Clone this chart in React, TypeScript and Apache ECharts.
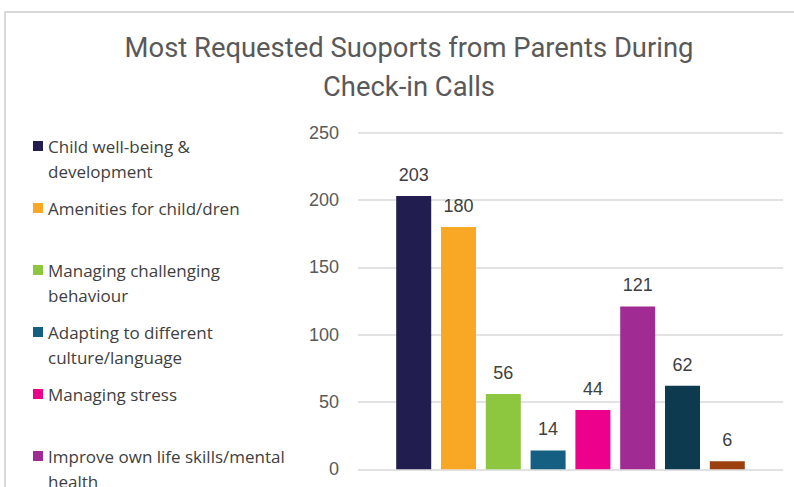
import React, { useEffect, useRef } from 'react';
import * as echarts from 'echarts';

const chartTitle = 'Most Requested Suoports from Parents During\nCheck-in Calls';
const categories = [''];
const seriesNames = [
  'Child well-being & development',
  'Amenities for child/dren',
  'Managing challenging behaviour',
  'Adapting to different culture/language',
  'Managing stress',
  'Improve own life skills/mental health',
  'Accessing community services',
  'Other',
];
const legendLines = [
  'Child well-being &\ndevelopment',
  'Amenities for child/dren',
  'Managing challenging\nbehaviour',
  'Adapting to different\nculture/language',
  'Managing stress',
  'Improve own life skills/mental\nhealth',
  'Accessing community\nservices',
  'Other',
];
const seriesValues = [203, 180, 56, 14, 44, 121, 62, 6];
const seriesColors = ['#211d4e', '#f9a825', '#8dc63f', '#156082', '#ec008c', '#a02b93', '#0e3a4f', '#9c3f0f'];
const yMin = 0;
const yMax = 250;
const yInterval = 50;

export default function App() {
  const ref = useRef<HTMLDivElement>(null);
  useEffect(() => {
    if (!ref.current) return;
    const chart = echarts.init(ref.current, null, { renderer: 'svg' });
    const legends = seriesNames.map((name, i) => {
      const lines = legendLines[i].split('\n').length;
      const iconY = 146 + 62 * i;
      return {
        data: [name],
        orient: 'vertical',
        left: 33,
        top: iconY - (lines === 2 ? 37.5 : 12.5),
        padding: 0,
        itemWidth: 10,
        itemHeight: 10,
        icon: 'rect',
        selectedMode: false,
        formatter: () => (lines === 2 ? '\n' + legendLines[i] : legendLines[i]),
        textStyle: {
          fontFamily: 'Open Sans',
          fontSize: 17,
          color: '#404040',
          lineHeight: 25,
        },
      };
    });
    chart.setOption({
      animation: false,
      backgroundColor: '#ffffff',
      title: {
        text: chartTitle,
        left: 409,
        top: 28,
        padding: 0,
        textAlign: 'center',
        textStyle: {
          fontFamily: 'Liberation Sans Narrow, Roboto, sans-serif',
          fontSize: 27.4,
          fontWeight: 'normal',
          color: '#595959',
          lineHeight: 39,
        },
      },
      graphic: [
        {
          type: 'rect',
          shape: { x: 5, y: 12, width: 900, height: 600 },
          style: { fill: 'none', stroke: '#d9d9d9', lineWidth: 2 },
          silent: true,
          z: -1,
        },
      ],
      legend: legends,
      grid: { left: 358, right: 11, top: 132.7, bottom: 17.7, containLabel: false },
      xAxis: {
        type: 'category',
        data: categories,
        axisLine: { show: false },
        axisTick: { show: false },
        axisLabel: { show: false },
      },
      yAxis: {
        type: 'value',
        min: yMin,
        max: yMax,
        interval: yInterval,
        axisLine: { show: false },
        axisTick: { show: false },
        axisLabel: {
          fontFamily: 'Liberation Sans, Arial, sans-serif',
          fontSize: 18,
          color: '#595959',
          margin: 19,
        },
        splitLine: { lineStyle: { color: '#d9d9d9', width: 1.5 } },
      },
      series: seriesNames.map((name, i) => ({
        name,
        type: 'bar',
        data: [seriesValues[i]],
        barWidth: 35,
        barGap: '28%',
        itemStyle: { color: seriesColors[i] },
        label: {
          show: true,
          position: 'top',
          distance: 12,
          fontFamily: 'Liberation Sans, Arial, sans-serif',
          fontSize: 18,
          color: '#404040',
        },
      })),
    });
    return () => chart.dispose();
  }, []);
  return <div ref={ref} style={{ position: 'fixed', left: 0, top: 0, width: 794, height: 487 }} />;
}
